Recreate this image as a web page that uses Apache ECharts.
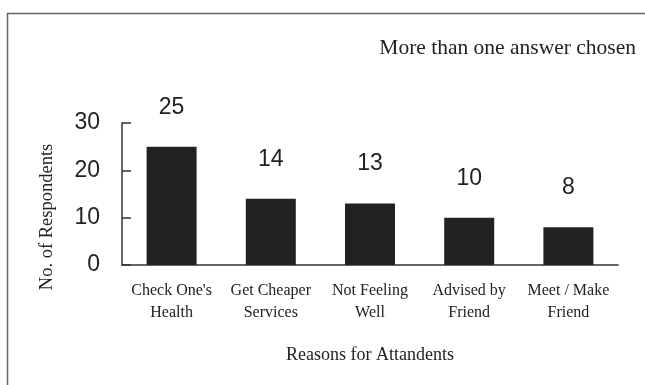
<!DOCTYPE html>
<html>
<head>
<meta charset="utf-8">
<style>
  html, body { margin: 0; padding: 0; background: #fff; }
  #chart { width: 645px; height: 385px; }
</style>
<script src="https://cdn.jsdelivr.net/npm/echarts@6/dist/echarts.min.js"></script>
</head>
<body>
<div id="chart"></div>
<script>
// Survey: why respondents attended (multiple answers allowed)
const categories = [
  "Check One's\nHealth",
  "Get Cheaper\nServices",
  "Not Feeling\nWell",
  "Advised by\nFriend",
  "Meet / Make\nFriend"
];
const respondents = [25, 14, 13, 10, 8];
const yTicks = [0, 10, 20, 30];

const serif = '"Liberation Serif", "Times New Roman", serif';
const sans = '"Liberation Sans", Arial, sans-serif';

const chart = echarts.init(document.getElementById('chart'), null, { renderer: 'canvas' });

chart.setOption({
  backgroundColor: '#ffffff',
  animation: false,
  grid: { left: 122, right: 27, top: 123, bottom: 120, containLabel: false },
  graphic: [
    { type: 'line', shape: { x1: 7, y1: 13.5, x2: 645, y2: 13.5 }, style: { stroke: '#666', lineWidth: 1.5 } },
    { type: 'line', shape: { x1: 7.5, y1: 13, x2: 7.5, y2: 385 }, style: { stroke: '#666', lineWidth: 1.5 } },
    {
      type: 'text', right: 9, top: 37,
      style: { text: 'More than one answer chosen', font: '21.5px ' + serif, fill: '#222' }
    },
    {
      type: 'text', x: 47, y: 217, rotation: Math.PI / 2,
      style: {
        text: 'No. of Respondents', font: '18.5px ' + serif, fill: '#222',
        align: 'center', verticalAlign: 'middle'
      }
    }
  ],
  xAxis: {
    type: 'category',
    data: categories,
    name: 'Reasons for Attandents',
    nameLocation: 'middle',
    nameGap: 81,
    nameTextStyle: { fontFamily: serif, fontSize: 18, color: '#222' },
    axisLine: { lineStyle: { color: '#333', width: 1.5 } },
    axisTick: { show: false },
    axisLabel: {
      interval: 0, margin: 15, fontFamily: serif, fontSize: 16, color: '#222',
      lineHeight: 22
    }
  },
  yAxis: {
    type: 'value',
    min: 0, max: 30, interval: 10,
    splitLine: { show: false },
    axisLine: { show: true, lineStyle: { color: '#333', width: 1.5 } },
    axisTick: { show: true, inside: true, length: 9, lineStyle: { color: '#333', width: 1.5 } },
    axisLabel: {
      margin: 22, fontFamily: sans, fontSize: 23, color: '#222',
      formatter: v => (yTicks.includes(v) ? String(v) : '')
    }
  },
  series: [{
    type: 'bar',
    data: respondents,
    barWidth: 50,
    itemStyle: { color: '#222222' },
    label: {
      show: true, position: 'top', distance: 28,
      fontFamily: sans, fontSize: 23, color: '#222'
    }
  }]
});
</script>
</body>
</html>
